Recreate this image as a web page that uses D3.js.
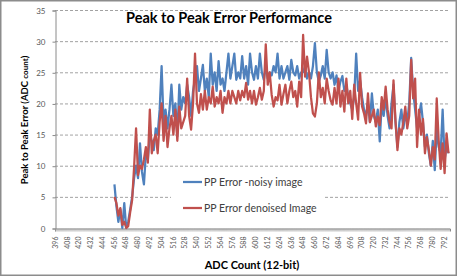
<!DOCTYPE html>
<html>
<head>
<meta charset="utf-8">
<script src="https://cdn.jsdelivr.net/npm/d3@7"></script>
<style>
  body { margin: 0; background: #fff; }
  text { font-family: Lato, "Open Sans", sans-serif; }
</style>
</head>
<body>
<div id="chart"></div>
<script>
var w = 457;
var h = 276;

// x categories: every ADC code on the axis, labels every 12 codes
var categories = d3.range(396, 798);
var tickLabels = [396, 408, 420, 432, 444, 456, 468, 480, 492, 504, 516, 528, 540, 552, 564, 576, 588,
    600, 612, 624, 636, 648, 660, 672, 684, 696, 708, 720, 732, 744, 756, 768, 780, 792];
var yTicks = [0, 5, 10, 15, 20, 25, 30, 35];

// ADC codes where the errors were measured (every 2nd code, from 456)
var codes = [456, 458, 460, 462, 464, 466, 468, 470, 472, 474, 476, 478, 480, 482, 484, 486, 488, 490, 492, 494,
    496, 498, 500, 502, 504, 506, 508, 510, 512, 514, 516, 518, 520, 522, 524, 526, 528, 530, 532, 534,
    536, 538, 540, 542, 544, 546, 548, 550, 552, 554, 556, 558, 560, 562, 564, 566, 568, 570, 572, 574,
    576, 578, 580, 582, 584, 586, 588, 590, 592, 594, 596, 598, 600, 602, 604, 606, 608, 610, 612, 614,
    616, 618, 620, 622, 624, 626, 628, 630, 632, 634, 636, 638, 640, 642, 644, 646, 648, 650, 652, 654,
    656, 658, 660, 662, 664, 666, 668, 670, 672, 674, 676, 678, 680, 682, 684, 686, 688, 690, 692, 694,
    696, 698, 700, 702, 704, 706, 708, 710, 712, 714, 716, 718, 720, 722, 724, 726, 728, 730, 732, 734,
    736, 738, 740, 742, 744, 746, 748, 750, 752, 754, 756, 758, 760, 762, 764, 766, 768, 770, 772, 774,
    776, 778, 780, 782, 784, 786, 788, 790, 792, 794, 796];

var noisy = [7, 3.5, 1, 3, 0, 4, 0, 1, 3, 5, 8, 10, 8, 13.6, 9, 7, 12, 11, 15, 14,
    12.5, 16, 15, 19, 26, 17, 19, 16, 19, 23, 18, 20, 14.7, 23, 19, 21, 20, 23, 21, 18,
    22, 24, 26, 22, 24, 26.2, 22, 24, 21, 28, 23, 25, 22, 26.8, 23, 24, 22, 25, 28, 24,
    26, 28, 23.8, 25, 24, 27.6, 24, 26, 23, 28, 25, 23.8, 26, 24, 28, 25, 23.8, 26, 24, 25,
    24.5, 26, 25, 28, 24, 26, 24, 25, 26, 23.8, 27, 25, 24.5, 26, 24, 25, 25, 26, 24, 25,
    24, 26, 29.7, 25, 23.5, 24.5, 26, 24, 28.6, 25, 24, 25, 23, 24.5, 22, 23.5, 24.4, 22, 23, 21,
    20, 19, 21, 28, 22, 23.7, 21, 19, 18, 20, 17, 21.6, 18, 17, 19, 13.9, 20, 18, 21, 18,
    16, 20, 23, 17, 13, 17, 19, 16, 18, 17, 20, 27.3, 22, 19, 16, 18, 20, 17, 13, 15,
    12, 10, 14, 9.3, 16, 13, 12, 19, 11, 13, 12];

var denoised = [5, 4, 2, 3.2, 0.5, 1, 0, 0.3, 2.5, 4.5, 9.8, 16, 8.5, 10, 9.5, 11, 13, 10.5, 19, 12,
    14, 15, 12, 17, 20, 14, 18, 13, 16, 18, 15, 19, 14, 19.5, 16, 17, 18, 24, 18, 15.8,
    20, 28, 20, 18.5, 21.5, 19, 22, 19, 21, 20, 22.7, 19.5, 21, 20, 22, 18.5, 21, 20, 22, 20,
    22, 21, 20, 22, 20.5, 22, 21, 23.3, 20.6, 22, 20, 22, 19.8, 21, 22.5, 20.6, 22, 29.5, 23, 25,
    21.4, 19.5, 21, 20.5, 23, 19.8, 21.5, 23, 20, 22, 23.5, 21, 22, 19.5, 23.5, 21, 31, 24.3, 27.5, 25,
    21, 18.4, 17.9, 20, 25, 21, 22.5, 20, 24, 22, 20.5, 19.8, 22.5, 20, 24, 19.5, 22, 18.7, 24, 20,
    22, 17.5, 23, 20, 17.4, 24.9, 19.5, 18.4, 16.8, 21.6, 17, 18, 19, 16.3, 17.9, 16.5, 21, 19, 22.7, 19,
    17, 16, 23.7, 17.3, 12.5, 16, 15, 17, 19.5, 16, 18, 27, 20.8, 24, 13, 19, 15, 17.5, 12, 14.6,
    12.5, 10, 13, 11, 20.8, 14, 9.5, 13.6, 8.8, 15.2, 12];

var seriesNames = ["PP Error -noisy image", "PP Error denoised Image"];
var seriesColors = ["#4f81bd", "#c0504d"];

var svg = d3.select("#chart")
    .append("svg")
    .attr("width", w)
    .attr("height", h);

// chart frame
svg.append("rect")
    .attr("x", 0.75).attr("y", 0.75)
    .attr("width", w - 1.5).attr("height", h - 1.5)
    .attr("fill", "#fff")
    .attr("stroke", "#8c8c8c")
    .attr("stroke-width", 1.5);

var xScale = d3.scaleBand()
    .domain(categories)
    .range([55, 450]);

var yScale = d3.scaleLinear()
    .domain([0, 35])
    .range([228, 10]);

// horizontal dashed gridlines
svg.selectAll(".grid")
    .data(yTicks.slice(1))
    .enter()
    .append("line")
    .attr("class", "grid")
    .attr("x1", 55)
    .attr("x2", 450)
    .attr("y1", function(d) { return yScale(d) + 0.5; })
    .attr("y2", function(d) { return yScale(d) + 0.5; })
    .attr("stroke", "#8a8a8a")
    .attr("stroke-width", 0.8)
    .attr("stroke-dasharray", "3,2");

// y axis
var yAxis = d3.axisLeft(yScale).tickValues(yTicks).tickSize(3).tickPadding(7);
var gy = svg.append("g")
    .attr("transform", "translate(55.5,0.5)")
    .call(yAxis);
gy.select(".domain").attr("stroke", "#8a8a8a");
gy.selectAll(".tick line").attr("stroke", "#8a8a8a");
gy.selectAll("text")
    .attr("fill", "#595959")
    .style("font-size", "8px");

// x axis: one minor tick per ADC code, labels every 12
var gxMinor = svg.append("g")
    .attr("transform", "translate(0,228.5)")
    .call(d3.axisBottom(xScale).tickSize(3).tickFormat(""));
gxMinor.select(".domain").attr("stroke", "#8a8a8a");
gxMinor.selectAll(".tick line").attr("stroke", "#9a9a9a").attr("stroke-width", 0.5);

var gx = svg.append("g")
    .attr("transform", "translate(0,228.5)")
    .call(d3.axisBottom(xScale).tickValues(tickLabels).tickSize(0));
gx.select(".domain").remove();
gx.selectAll("text")
    .attr("fill", "#595959")
    .style("font-size", "7px")
    .attr("transform", "rotate(-90)")
    .attr("text-anchor", "end")
    .attr("x", -8)
    .attr("y", 0)
    .attr("dy", "0.32em");

// series lines (red drawn on top)
var line = d3.line()
    .x(function(d) { return xScale(d[0]) + xScale.bandwidth() / 2; })
    .y(function(d) { return yScale(d[1]); });

var seriesData = [noisy, denoised].map(function(vals) {
    return codes.map(function(c, i) { return [c, vals[i]]; });
});

svg.selectAll(".series")
    .data(seriesData)
    .enter()
    .append("path")
    .attr("class", "series")
    .attr("d", function(d) { return line(d); })
    .attr("fill", "none")
    .attr("stroke", function(d, i) { return seriesColors[i]; })
    .attr("stroke-width", 2.25)
    .attr("stroke-linejoin", "round");

// legend
svg.append("rect")
    .attr("x", 171).attr("y", 171)
    .attr("width", 153).attr("height", 44)
    .attr("fill", "#fff");

var legend = svg.selectAll(".legend")
    .data(seriesNames)
    .enter()
    .append("g")
    .attr("class", "legend")
    .attr("transform", function(d, i) { return "translate(183," + (182 + i * 26) + ")"; });

legend.append("line")
    .attr("x1", 0).attr("x2", 19)
    .attr("stroke", function(d, i) { return seriesColors[i]; })
    .attr("stroke-width", 2.25);

legend.append("text")
    .attr("x", 21)
    .attr("dy", "0.35em")
    .attr("fill", "#404040")
    .style("font-size", "10.5px")
    .text(function(d) { return d; });

// titles
svg.append("text")
    .attr("x", 229)
    .attr("y", 23)
    .attr("text-anchor", "middle")
    .style("font-size", "14.5px")
    .style("font-weight", "bold")
    .text("Peak to Peak Error Performance");

svg.append("text")
    .attr("x", 252)
    .attr("y", 269)
    .attr("text-anchor", "middle")
    .style("font-size", "11px")
    .style("font-weight", "bold")
    .text("ADC Count (12-bit)");

var yLabel = svg.append("text")
    .attr("transform", "translate(28,120) rotate(-90)")
    .attr("text-anchor", "middle")
    .style("font-size", "9.5px")
    .style("font-weight", "bold");
yLabel.append("tspan").text("Peak to Peak Error (ADC ");
yLabel.append("tspan").style("font-size", "8px").text("count");
yLabel.append("tspan").text(")");
</script>
</body>
</html>
